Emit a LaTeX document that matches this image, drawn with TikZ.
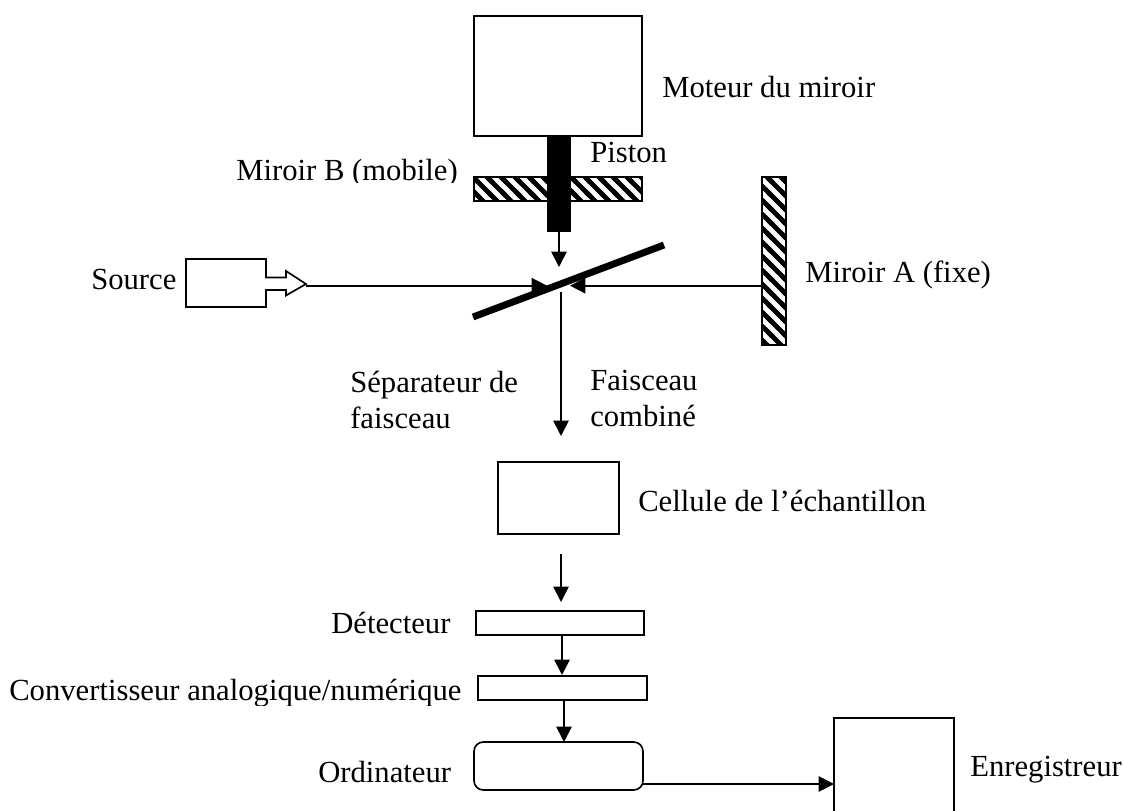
\documentclass[tikz,border=0pt]{standalone}
\usepackage{fontspec}
\setmainfont{Liberation Serif}
\usetikzlibrary{patterns,arrows.meta}
\pgfdeclarepatternformonly{myhatch}{\pgfqpoint{-3pt}{-3pt}}{\pgfqpoint{13.5pt}{13.5pt}}{\pgfqpoint{10.5pt}{10.5pt}}{%
  \pgfsetlinewidth{3.6pt}\pgfpathmoveto{\pgfqpoint{-3pt}{13.5pt}}\pgfpathlineto{\pgfqpoint{13.5pt}{-3pt}}\pgfusepath{stroke}}
\tikzset{
  x=0.75pt,y=-0.75pt,
  boxn/.style={draw=black,line width=1.25pt,minimum width=0pt,inner sep=0pt,outer sep=0pt,fill=white},
  hatchn/.style={draw=black,line width=1.25pt,pattern=myhatch,inner sep=0pt,outer sep=0pt},
  lab/.style={font=\fontsize{23}{27}\selectfont,inner sep=0pt,align=left,anchor=base west},
  beam/.style={line width=1.25pt,-{Triangle[length=11.5pt,width=11.5pt]}},
  outline/.style={line width=1.25pt}
}
\newcommand{\bx}[6][boxn]{\node[#1,minimum width=#4*0.75pt,minimum height=#5*0.75pt,anchor=north west] (#2) at (#3) {#6};}
\begin{document}
\begin{tikzpicture}
\useasboundingbox (0,0) rectangle (1123,810);
\bx{motor}{474,16}{168}{120}{}
\bx[hatchn]{mirb}{474,177}{168}{24}{}
\bx[hatchn]{mira}{762,177}{24}{168}{}
\node[fill=black,inner sep=0pt,outer sep=0pt,minimum width=18pt,minimum height=72pt,anchor=north west] (piston) at (547,136) {};
\coordinate (pistontip) at (559,267);
\draw[beam] (piston.south) -- (pistontip);
\coordinate (sa) at (473,317);
\coordinate (sb) at (664,245);
\draw[line width=5.2pt] (sa) -- (sb);
\draw[outline,fill=white] (186,259) -- (266,259) -- (266,277.5) -- (286,277.5) -- (286,271) -- (306,284) -- (286,295.5) -- (286,290) -- (266,290) -- (266,307) -- (186,307) -- cycle;
\coordinate (srcstart) at (306,285.7);
\coordinate (srcend) at (547,285.7);
\draw[beam] (srcstart) -- (srcend);
\draw[beam] (mira.west |- srcstart) -- (570,285.7);
\coordinate (vtop) at (561,292);
\coordinate (vend) at (561,436);
\draw[beam] (vtop) -- (vend);
\bx{cell}{498,462}{121}{72}{}
\coordinate (c1) at (561,554);
\coordinate (c2) at (561,602);
\draw[beam] (c1) -- (c2);
\bx{det}{476,611}{168}{24}{}
\bx{conv}{478,676}{169}{24}{}
\node[draw=black,line width=1.25pt,rounded corners=7pt,inner sep=0pt,outer sep=0pt,minimum width=169*0.75pt,minimum height=48*0.75pt,anchor=north west] (ord) at (474,742) {};
\draw[beam] (det.south -| 562,0) -- (562,675);
\draw[beam] (conv.south -| 564,0) -- (564,742);
\draw[outline] (834,812) -- (834,718) -- (954,718) -- (954,812);
\coordinate (recin) at (834,784);
\draw[beam] (643,784) -- (recin);
\node[lab] (l1) at (662,97) {Moteur du miroir};
\node[lab] (l2) at (590,162) {Piston};
\begin{scope}
\clip (220,150) rectangle (470,182);
\node[lab] (l3) at (236,180.5) {Miroir B (mobile)};
\end{scope}
\node[lab] (l4) at (91,289) {Source};
\node[lab] (l5) at (805,282) {Miroir A (fixe)};
\node[lab] (l6a) at (350,392) {Séparateur de};
\node[lab] (l6b) at (350,428) {faisceau};
\node[lab] (l7a) at (590,390) {Faisceau};
\node[lab] (l7b) at (590,426) {combiné};
\node[lab] (l8) at (638,511) {Cellule de l’échantillon};
\node[lab] (l9) at (331,633) {Détecteur};
\begin{scope}
\clip (0,670) rectangle (475,705.5);
\node[lab] (l10) at (9,700) {Convertisseur analogique/numérique};
\end{scope}
\node[lab] (l11) at (318,782) {Ordinateur};
\node[lab] (l12) at (970,776) {Enregistreur};
\end{tikzpicture}
\end{document}
